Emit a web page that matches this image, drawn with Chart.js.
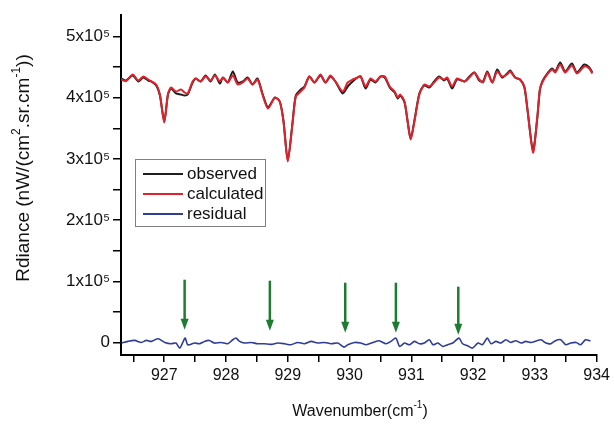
<!DOCTYPE html>
<html>
<head>
<meta charset="utf-8">
<title>Spectrum fit</title>
<script src="https://cdn.jsdelivr.net/npm/chart.js@4.4.1/dist/chart.umd.min.js"></script>
<style>
  body { margin: 0; background: #fff; }
</style>
</head>
<body>
<canvas id="spectrumChart" width="614" height="428"></canvas>
<script>
// spectrum
var wavenumber = [926.30, 926.38, 926.49, 926.58, 926.66, 926.74, 926.79, 926.87, 926.93, 927.00,
  927.06, 927.11, 927.19, 927.27, 927.33, 927.38, 927.46, 927.51, 927.59, 927.67,
  927.75, 927.82, 927.90, 927.95, 928.03, 928.11, 928.19, 928.27, 928.35, 928.43,
  928.51, 928.59, 928.68, 928.79, 928.87, 928.93, 929.00, 929.08, 929.13, 929.21,
  929.27, 929.35, 929.43, 929.53, 929.61, 929.69, 929.77, 929.89, 929.97, 930.05,
  930.13, 930.18, 930.26, 930.34, 930.42, 930.50, 930.57, 930.65, 930.73, 930.78,
  930.82, 930.89, 930.94, 930.99, 931.05, 931.13, 931.21, 931.29, 931.37, 931.45,
  931.53, 931.58, 931.66, 931.74, 931.86, 931.94, 932.02, 932.10, 932.16, 932.23,
  932.31, 932.39, 932.47, 932.55, 932.60, 932.68, 932.76, 932.83, 932.88, 932.97,
  933.04, 933.08, 933.12, 933.20, 933.28, 933.33, 933.41, 933.49, 933.60, 933.68,
  933.80, 933.88, 933.93];
var calculated = [429700, 427000, 437900, 428100, 434600, 429700, 426500, 421600, 405200, 359500,
  405200, 416700, 410100, 413400, 408500, 406900, 426500, 431400, 426500, 434600,
  428100, 436300, 426500, 433000, 424800, 436300, 421600, 424800, 431400, 421600,
  429700, 405200, 382400, 400300, 393800, 361100, 295800, 361100, 402000, 410100,
  416700, 434600, 424800, 437900, 424800, 436300, 426500, 410100, 424800, 429700,
  433000, 434600, 418300, 431400, 426500, 434600, 434600, 418300, 410100, 400300,
  405200, 393800, 361100, 331700, 361100, 405200, 421600, 418300, 424800, 433000,
  429700, 433000, 418300, 431400, 426500, 433000, 441200, 429700, 424800, 441200,
  424800, 442800, 434600, 437900, 442800, 433000, 429700, 418300, 380700, 310500,
  369300, 413400, 424800, 437900, 446100, 441200, 454200, 441200, 452600, 439500,
  450900, 447700, 439500];
var observed = [431400, 428100, 436300, 426500, 433000, 428100, 426500, 420000, 403600, 361100,
  405200, 415000, 406900, 405200, 403600, 405200, 424800, 431400, 426500, 436300,
  426500, 437900, 423200, 433000, 424800, 442800, 424800, 426500, 433000, 421600,
  431400, 406900, 384100, 400300, 393800, 362700, 297400, 362700, 403600, 413400,
  418300, 434600, 424800, 436300, 424800, 434600, 426500, 406900, 418300, 426500,
  433000, 434600, 415000, 429700, 424800, 434600, 433000, 416700, 408500, 398700,
  403600, 392200, 361100, 333300, 362700, 406900, 420000, 416700, 426500, 434600,
  428100, 431400, 415000, 429700, 426500, 434600, 441200, 428100, 426500, 442800,
  424800, 446100, 433000, 439500, 444400, 433000, 429700, 416700, 380700, 313800,
  367600, 411700, 426500, 439500, 447700, 442800, 457500, 442800, 455900, 441200,
  454200, 449400, 441200];

var residWavenumber = [926.31, 926.41, 926.52, 926.63, 926.71, 926.79, 926.90, 927.01, 927.11, 927.19,
  927.25, 927.30, 927.34, 927.38, 927.49, 927.57, 927.65, 927.73, 927.81, 927.92,
  928.03, 928.11, 928.16, 928.22, 928.30, 928.41, 928.51, 928.62, 928.73, 928.84,
  928.95, 929.05, 929.16, 929.27, 929.38, 929.48, 929.59, 929.70, 929.81, 929.91,
  929.97, 930.08, 930.18, 930.27, 930.38, 930.48, 930.59, 930.67, 930.75, 930.81,
  930.89, 930.97, 931.05, 931.13, 931.21, 931.29, 931.35, 931.43, 931.51, 931.59,
  931.67, 931.77, 931.83, 931.91, 931.99, 932.08, 932.15, 932.23, 932.29, 932.37,
  932.45, 932.53, 932.61, 932.69, 932.78, 932.85, 932.94, 933.02, 933.10, 933.18,
  933.26, 933.34, 933.42, 933.50, 933.58, 933.67, 933.74, 933.82, 933.90];
var residual = [-500, 2200, 3800, 500, 3800, 2200, 6500, 500, -1600, -500,
  -8700, 500, 7600, -3300, -500, -1600, 2200, 3800, -500, 500,
  -1600, 4900, 7600, 2200, -500, 500, -1600, -1600, -2700, -500,
  -1600, -3300, 500, -1600, 2200, -500, 500, -1600, -500, -7100,
  -3300, 500, -500, -3300, 500, 3300, -1600, 2200, 7600, -6000,
  -500, -3300, 2200, -1600, -500, 4900, -3300, -500, -6000, -3300,
  -500, 7600, -1600, -4900, -8700, -500, -3300, 7600, -1600, 2200,
  -500, 4900, 500, 3300, -500, 2200, 500, 2700, 4900, -500,
  -1600, 3800, 4900, -3300, -500, 500, -3300, 4900, 2700];

// green arrows marking lines
var arrowX = [927.33, 928.71, 929.93, 930.75, 931.76];
var arrowTop = [102900, 101300, 98000, 98000, 91500];
var arrowTip = [21200, 19600, 16300, 16300, 13100];

var xTicks = [926.5, 927, 927.5, 928, 928.5, 929, 929.5, 930, 930.5, 931, 931.5, 932, 932.5, 933, 933.5, 934];
var yTicks = [0, 50000, 100000, 150000, 200000, 250000, 300000, 350000, 400000, 450000, 500000];

var FONT = '"Liberation Sans", Arial, sans-serif';

function toPoints(xs, ys) {
  var pts = [];
  for (var i = 0; i < xs.length; i++) pts.push({x: xs[i], y: ys[i]});
  return pts;
}

// text with superscript parts, centered on (0,0)
function drawRich(ctx, parts, size) {
  var supSize = Math.round(size * 0.62);
  var total = 0;
  parts.forEach(function(p) {
    ctx.font = (p.sup ? supSize : size) + 'px ' + FONT;
    p.w = ctx.measureText(p.t).width;
    total += p.w;
  });
  var x = -total / 2;
  ctx.textAlign = 'left';
  ctx.textBaseline = 'alphabetic';
  parts.forEach(function(p) {
    ctx.font = (p.sup ? supSize : size) + 'px ' + FONT;
    ctx.fillText(p.t, x, p.sup ? size * 0.35 - size * 0.45 : size * 0.35);
    x += p.w;
  });
}

var extras = {
  id: 'extras',
  afterDraw: function(chart) {
    var ctx = chart.ctx;
    var xs = chart.scales.x, ys = chart.scales.y;
    ctx.save();

    // arrows
    ctx.strokeStyle = '#1d7c31';
    ctx.fillStyle = '#1d7c31';
    ctx.lineWidth = 2.5;
    for (var i = 0; i < arrowX.length; i++) {
      var px = xs.getPixelForValue(arrowX[i]);
      var top = ys.getPixelForValue(arrowTop[i]);
      var tip = ys.getPixelForValue(arrowTip[i]);
      ctx.beginPath();
      ctx.moveTo(px, top);
      ctx.lineTo(px, tip - 9);
      ctx.stroke();
      ctx.beginPath();
      ctx.moveTo(px - 4, tip - 11);
      ctx.lineTo(px + 4, tip - 11);
      ctx.lineTo(px, tip);
      ctx.closePath();
      ctx.fill();
    }

    // legend
    ctx.strokeStyle = '#808080';
    ctx.lineWidth = 1;
    ctx.strokeRect(135.5, 159.5, 130, 67);
    var ds = chart.data.datasets;
    ctx.font = '17px ' + FONT;
    ctx.textBaseline = 'middle';
    ctx.textAlign = 'left';
    ds.forEach(function(d, j) {
      var y = 174 + j * 20;
      ctx.strokeStyle = d.borderColor;
      ctx.lineWidth = 2;
      ctx.beginPath();
      ctx.moveTo(143, y);
      ctx.lineTo(183, y);
      ctx.stroke();
      ctx.fillStyle = '#111';
      ctx.fillText(d.label, 187, y);
    });

    // axis titles
    ctx.fillStyle = '#111';
    ctx.save();
    ctx.translate(360, 410);
    drawRich(ctx, [{t: 'Wavenumber(cm'}, {t: '-1', sup: true}, {t: ')'}], 16);
    ctx.restore();

    ctx.save();
    ctx.translate(22, 168);
    ctx.rotate(-Math.PI / 2);
    drawRich(ctx, [{t: 'Rdiance (nW/(cm'}, {t: '2', sup: true}, {t: '.sr.cm'}, {t: '-1', sup: true}, {t: '))'}], 19);
    ctx.restore();

    ctx.restore();
  }
};

var ctx = document.getElementById('spectrumChart').getContext('2d');
var chart = new Chart(ctx, {
  type: 'line',
  data: {
    datasets: [{
      label: 'observed',
      data: toPoints(wavenumber, observed),
      borderColor: '#1e1e1e',
      borderWidth: 2,
      order: 2
    }, {
      label: 'calculated',
      data: toPoints(wavenumber, calculated),
      borderColor: '#e3212b',
      borderWidth: 2,
      order: 1
    }, {
      label: 'residual',
      data: toPoints(residWavenumber, residual),
      borderColor: '#2f3d98',
      borderWidth: 1.6,
      order: 0
    }]
  },
  options: {
    responsive: false,
    animation: false,
    layout: { padding: { left: 0, top: 15, right: 16, bottom: 0 } },
    elements: {
      point: { radius: 0 },
      line: { tension: 0.25, fill: false }
    },
    plugins: {
      legend: { display: false },
      tooltip: { enabled: false }
    },
    scales: {
      x: {
        type: 'linear',
        min: 926.3,
        max: 934,
        afterBuildTicks: function(scale) {
          scale.ticks = xTicks.map(function(v) { return {value: v}; });
        },
        afterFit: function(scale) { scale.height = 73; },
        ticks: {
          autoSkip: false,
          maxRotation: 0,
          padding: 4,
          color: '#111',
          font: { family: FONT, size: 16 },
          callback: function(v) { return Number.isInteger(v) ? String(v) : ''; }
        },
        grid: { drawOnChartArea: false, drawTicks: true, tickLength: 7, color: '#000', lineWidth: 1.5 },
        border: { display: true, color: '#000', width: 2 }
      },
      y: {
        min: -20000,
        max: 535000,
        afterBuildTicks: function(scale) {
          scale.ticks = yTicks.map(function(v) { return {value: v}; });
        },
        afterFit: function(scale) { scale.width = 121; },
        ticks: {
          autoSkip: false,
          padding: 3,
          color: '#111',
          font: { family: FONT, size: 17 },
          callback: function(v) {
            if (v === 0) return '0';
            if (v % 100000 !== 0) return '';
            return (v / 100000) + 'x10\u2075';
          }
        },
        grid: { drawOnChartArea: false, drawTicks: true, tickLength: 8, color: '#000', lineWidth: 1.5 },
        border: { display: true, color: '#000', width: 2 }
      }
    }
  },
  plugins: [extras]
});
</script>
</body>
</html>
